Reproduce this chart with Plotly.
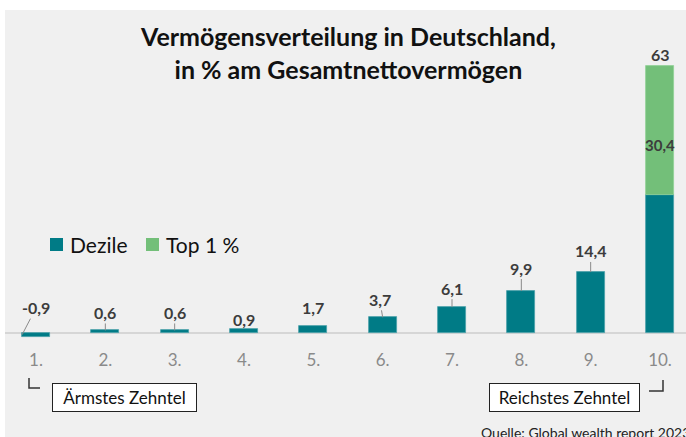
import plotly.graph_objects as go

# ---- data ----
deciles = [1, 2, 3, 4, 5, 6, 7, 8, 9, 10]
tick_labels = ["1.", "2.", "3.", "4.", "5.", "6.", "7.", "8.", "9.", "10."]
dezile_values = [-0.9, 0.6, 0.6, 0.9, 1.7, 3.7, 6.1, 9.9, 14.4, 32.6]
top1_values = [None, None, None, None, None, None, None, None, None, 30.4]
total_labels = ["-0,9", "0,6", "0,6", "0,9", "1,7", "3,7", "6,1", "9,9", "14,4", "63"]
top1_label = "30,4"
series_names = ["Dezile", "Top 1 %"]

W, H = 686, 437
FONT = "Lato"
TEAL = "#007b86"
GREEN = "#73bf79"
BG = "#f0f0f0"
LABEL_COL = "#3c3c3c"


def px(x):
    return x / W


def py(y):
    return 1 - y / H


fig = go.Figure()
fig.add_trace(go.Bar(
    x=deciles, y=dezile_values, name=series_names[0], width=0.4,
    marker=dict(color=TEAL, line=dict(color="#4aa0a8", width=0.8)),
))
fig.add_trace(go.Bar(
    x=deciles, y=top1_values, name=series_names[1], width=0.4,
    marker=dict(color=GREEN, line=dict(color="#8fd096", width=0.8)),
))

# value labels (pixel offsets: ax, ay, arrow?, dx, dy)
label_style = [
    (14, -27, True, -0.2, -0.4),
    (0, -18, True, 0, 0),
    (0, -18, True, 0, 0),
    (0, -10, False, 0, 0),
    (0, -18, False, 0, 0),
    (-3, -18, True, 0, 0),
    (0, -19, True, 0, 0),
    (0, -23, True, 0, 0),
    (0, -21, True, 0, 0),
    (0, -12, False, 0, 0),
]
annotations = []
for i, (d, v, t) in enumerate(zip(deciles, dezile_values, total_labels)):
    top = (top1_values[i] or 0) + max(v, 0)
    ax, ay, arrow, dx, dy = label_style[i]
    annotations.append(dict(
        x=d + dx, y=top + dy, xref="x", yref="y", text=t, showarrow=True,
        ax=ax, ay=ay, axref="pixel", ayref="pixel",
        arrowhead=0, arrowwidth=1, arrowcolor="#8a8a8a" if arrow else "rgba(0,0,0,0)",
        standoff=0, startstandoff=0,
        font=dict(family=FONT, size=16, color=LABEL_COL, weight="bold"),
    ))
annotations.append(dict(
    x=10, y=dezile_values[9] + top1_values[9] / 2, yshift=-15, xref="x", yref="y",
    text=top1_label, showarrow=False, xanchor="center", yanchor="middle",
    font=dict(family=FONT, size=15, color=LABEL_COL, weight="bold"),
))

# title
annotations.append(dict(
    x=px(348), y=py(53), xref="paper", yref="paper", xanchor="center", yanchor="middle",
    text="Vermögensverteilung in Deutschland,<br>in % am Gesamtnettovermögen",
    showarrow=False, align="center",
    font=dict(family=FONT, size=25, color="#111111", weight="bold"),
))

# legend (drawn manually to match the compact spacing)
legend_items = [(series_names[0], TEAL, 50), (series_names[1], GREEN, 146)]
shapes = [
    dict(type="rect", xref="paper", yref="paper", x0=px(5), x1=1.02, y0=-0.02, y1=py(10),
         fillcolor=BG, line=dict(width=0), layer="below"),
    dict(type="line", xref="paper", yref="y", x0=px(5), x1=1.02, y0=0, y1=0,
         line=dict(color="#d6d6d6", width=2), layer="below"),
    dict(type="path", xref="paper", yref="paper",
         path=f"M {px(29)} {py(378)} L {px(29)} {py(388)} L {px(40)} {py(388)}",
         line=dict(color="#333333", width=1.5)),
    dict(type="path", xref="paper", yref="paper",
         path=f"M {px(663)} {py(380)} L {px(663)} {py(391)} L {px(649)} {py(391)}",
         line=dict(color="#333333", width=1.5)),
]
for name, color, x0 in legend_items:
    shapes.append(dict(type="rect", xref="paper", yref="paper",
                       x0=px(x0), x1=px(x0 + 13), y0=py(251), y1=py(238),
                       fillcolor=color, line=dict(width=0)))
    annotations.append(dict(
        x=px(x0 + 18), y=py(244), xref="paper", yref="paper", xanchor="left", yanchor="middle",
        text=name, showarrow=False, font=dict(family=FONT, size=21, color="#111111"),
    ))

# boxes
annotations.append(dict(
    x=px(124.5), y=py(397.5), xref="paper", yref="paper", xanchor="center", yanchor="middle",
    text="Ärmstes Zehntel",
    showarrow=False, bgcolor="white", bordercolor="#222222", borderwidth=1,
    width=139, height=23, borderpad=2,
    font=dict(family=FONT, size=17, color="#111111"),
))
annotations.append(dict(
    x=px(564.5), y=py(397.5), xref="paper", yref="paper", xanchor="center", yanchor="middle",
    text="Reichstes Zehntel",
    showarrow=False, bgcolor="white", bordercolor="#222222", borderwidth=1,
    width=145, height=23, borderpad=2,
    font=dict(family=FONT, size=17, color="#111111"),
))
# source
annotations.append(dict(
    x=px(479), y=py(432), xref="paper", yref="paper", xanchor="left", yanchor="middle",
    text="Quelle: Global wealth report 2023", showarrow=False,
    font=dict(family=FONT, size=14, color="#222222"),
))

scale = 4.238
base_px = 333
dom_bottom_px = 348
fig.update_layout(
    width=W, height=H, margin=dict(l=0, r=0, t=0, b=0),
    paper_bgcolor="white", plot_bgcolor="rgba(0,0,0,0)",
    barmode="relative", bargap=0,
    showlegend=False,
    xaxis=dict(range=[1 - 36 / 69.33, 10 + 26 / 69.33], tickvals=deciles, ticktext=tick_labels,
               showgrid=False, zeroline=False, showline=False, ticks="",
               tickfont=dict(family=FONT, size=17, color="#8a8a8a"), fixedrange=True),
    yaxis=dict(domain=[1 - dom_bottom_px / H, 1],
               range=[(base_px - dom_bottom_px) / scale, base_px / scale],
               showgrid=False, zeroline=False, showticklabels=False, visible=False),
    annotations=annotations, shapes=shapes,
)

fig.write_html("out.html", config={"displayModeBar": False},
               post_script="document.body.style.margin='0';document.body.style.overflow='hidden';")
